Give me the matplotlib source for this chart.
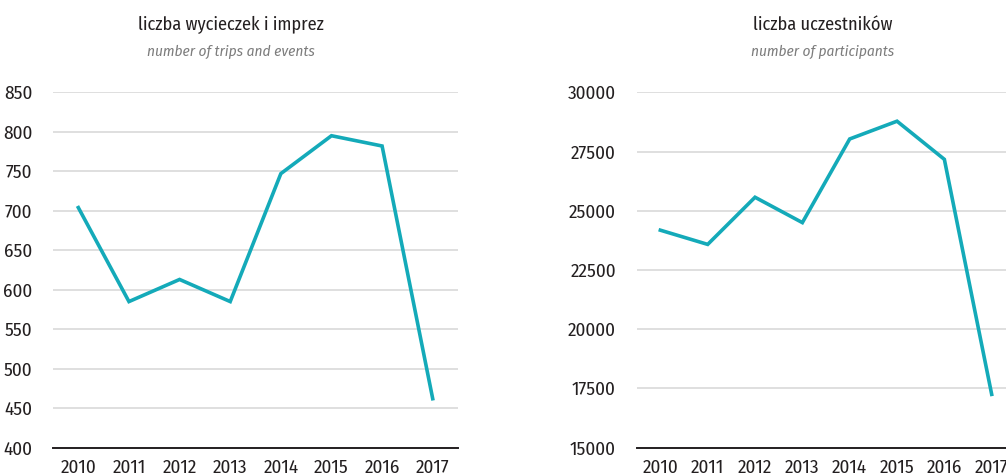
import matplotlib.pyplot as plt

years = [2010, 2011, 2012, 2013, 2014, 2015, 2016, 2017]
trips = [704, 585, 613, 585, 747, 795, 782, 462]
participants = [24180, 23580, 25570, 24500, 28030, 28780, 27170, 17250]

trips_ticks = list(range(400, 851, 50))
part_ticks = list(range(15000, 30001, 2500))

plt.rcParams['font.family'] = ['Fira Sans Condensed', 'Roboto Condensed', 'DejaVu Sans']

LINE = '#14aab9'
GRID = '#dcdcdc'
TEXT = '#231f20'

fig = plt.figure(figsize=(10.06, 4.76), dpi=100)
ax1 = fig.add_axes([0.0527, 0.0595, 0.4026, 0.7466])
ax2 = fig.add_axes([0.6329, 0.0595, 0.3764, 0.7466])


def style(ax, values, ticks):
    x = list(range(len(years)))
    ax.plot(x, values, color=LINE, linewidth=2.6, solid_joinstyle='miter', zorder=3)
    ax.set_xlim(-0.5, len(years) - 0.5)
    ax.set_ylim(ticks[0], ticks[-1])
    ax.set_yticks(ticks)
    ax.set_yticklabels([str(t) for t in ticks])
    ax.set_xticks(x)
    ax.set_xticklabels([str(y) for y in years])
    ax.grid(axis='y', color=GRID, linewidth=1.3, zorder=1)
    for s in ['top', 'right', 'left']:
        ax.spines[s].set_visible(False)
    ax.spines['bottom'].set_color(TEXT)
    ax.spines['bottom'].set_linewidth(1.4)
    ax.spines['bottom'].set_zorder(4)
    ax.tick_params(axis='both', length=0, labelsize=13.8, colors=TEXT)
    ax.tick_params(axis='y', pad=15)
    ax.tick_params(axis='x', pad=8)


style(ax1, trips, trips_ticks)
style(ax2, participants, part_ticks)

fig.text(231 / 1006, 1 - 25 / 476, 'liczba wycieczek i imprez', ha='center', va='center',
         fontsize=13.2, color=TEXT)
fig.text(231 / 1006, 1 - 52 / 476, 'number of trips and events', ha='center', va='center',
         fontsize=11, style='italic', color='#7d7d7d')
fig.text(823 / 1006, 1 - 25 / 476, 'liczba uczestników', ha='center', va='center',
         fontsize=13.2, color=TEXT)
fig.text(823 / 1006, 1 - 52 / 476, 'number of participants', ha='center', va='center',
         fontsize=11, style='italic', color='#7d7d7d')

fig.savefig('out.png', dpi=100)
